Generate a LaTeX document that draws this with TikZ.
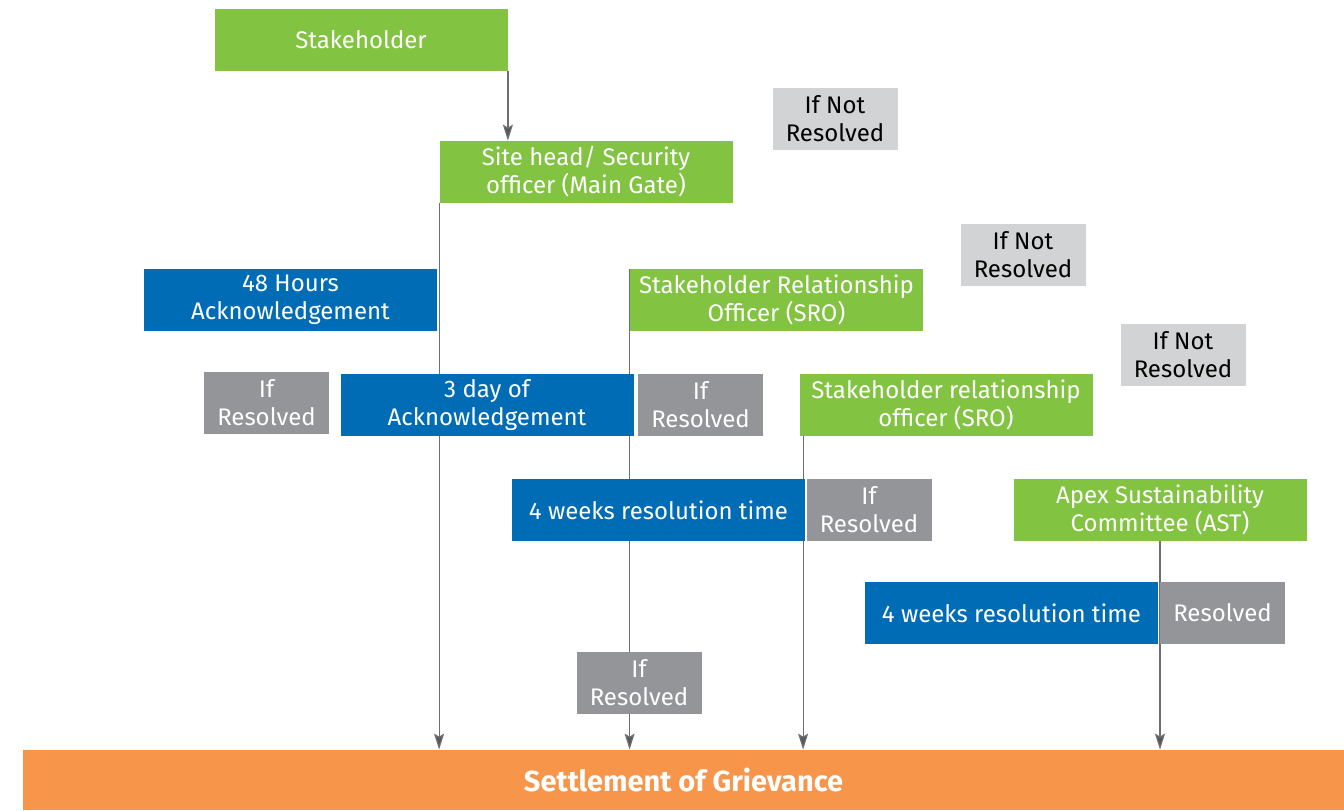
\documentclass[tikz,border=0pt]{standalone}
\usepackage{fontspec}
\setmainfont{Fira Sans}
\usetikzlibrary{arrows.meta,backgrounds}

\definecolor{leaf}{HTML}{82C341}
\definecolor{ocean}{HTML}{006CB5}
\definecolor{stone}{HTML}{939598}
\definecolor{mist}{HTML}{D1D3D4}
\definecolor{amber}{HTML}{F7964A}
\definecolor{wire}{HTML}{6D6E71}

\tikzset{
  box/.style={inner sep=0pt, align=center, text=white, font=\fontsize{12}{14}\selectfont},
  wide/.style={box, minimum width=146.5pt, minimum height=31pt},
  narrow/.style={box, minimum width=62.5pt, minimum height=31pt},
  office/.style={wide, fill=leaf},
  timing/.style={wide, fill=ocean},
  resolved/.style={narrow, fill=stone},
  notres/.style={narrow, fill=mist, text=black},
  link/.style={draw=wire, line width=0.6pt},
  flow/.style={link, -{Stealth[length=8pt,width=5pt,inset=1.5pt,fill=wire!80!black]}}
}

\begin{document}
\begin{tikzpicture}[x=0.5pt,y=-0.5pt]
                \useasboundingbox (0,0) rectangle (1344,810);
                % offices
                \node[office] (stake) at (361,40) {Stakeholder};
                \node[office] (site) at (586,172) {Site head/ Security\\officer (Main Gate)};
                \node[office] (sro1) at (776.5,300) {Stakeholder Relationship\\Officer (SRO)};
                \node[office] (sro2) at (946,405) {Stakeholder relationship\\officer (SRO)};
                \node[office] (ast) at (1160,510) {Apex Sustainability\\Committee (AST)};
                % timings
                \node[timing] (hrs) at (290.5,300) {48 Hours\\Acknowledgement};
                \node[timing] (days) at (487,405) {3 day of\\Acknowledgement};
                \node[timing] (wkA) at (658.5,510) {4 weeks resolution time};
                \node[timing] (wkB) at (1011.5,613) {4 weeks resolution time};
                % outcomes
                \node[notres] (nrA) at (835,119) {If Not\\Resolved};
                \node[notres] (nrB) at (1023,255) {If Not\\Resolved};
                \node[notres] (nrC) at (1183,355) {If Not\\Resolved};
                \node[resolved] (rsA) at (266.5,403) {If\\Resolved};
                \node[resolved] (rsB) at (700.5,405) {If\\Resolved};
                \node[resolved] (rsC) at (869,510) {If\\Resolved};
                \node[resolved] (rsD) at (639,683) {If\\Resolved};
                \node[resolved] (rsE) at (1222.5,613) {Resolved};
                % settlement
                \node[inner sep=0pt, minimum width=660.5pt, minimum height=30pt, fill=amber, text=white,
                      font=\fontsize{14.5}{16}\selectfont\bfseries] (settle) at (683.5,780) {Settlement of Grievance};

                \begin{scope}[on background layer]
                \draw[flow] (stake.south east) -- (stake.south east |- site.north);
                \draw[flow] (site.south west) -- (site.south west |- settle.north);
                \draw[link] (sro1.north west) -- (sro1.north west |- rsD.north);
                \draw[flow] (sro1.north west |- rsD.south) -- (sro1.north west |- settle.north);
                \draw[flow] ([xshift=2]sro2.south west) -- ([xshift=2]sro2.south west |- settle.north);
                \draw[flow] (ast.south) -- (ast.south |- settle.north);
                \end{scope}
            \end{tikzpicture}
\end{document}
